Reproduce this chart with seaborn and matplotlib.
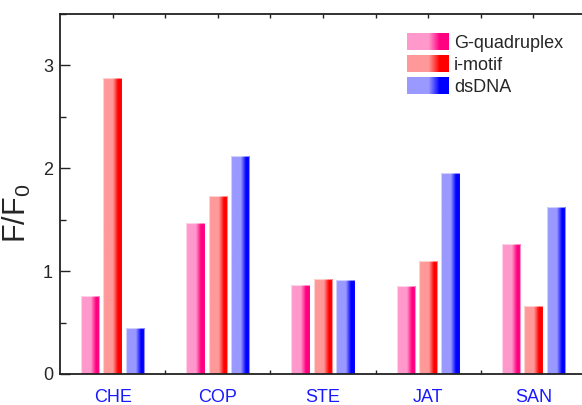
import numpy as np
import pandas as pd
import matplotlib
matplotlib.use("Agg")
import matplotlib.pyplot as plt
from matplotlib.colors import to_rgb
from matplotlib.patches import Rectangle
from matplotlib.legend_handler import HandlerBase
from matplotlib.ticker import MultipleLocator, FixedLocator
import seaborn as sns

# Fluorescence enhancement F/F0 for each probe against three DNA structures
categories = ["CHE", "COP", "STE", "JAT", "SAN"]
series = ["G-quadruplex", "i-motif", "dsDNA"]
g_quadruplex = [0.76, 1.47, 0.87, 0.86, 1.26]
i_motif = [2.88, 1.73, 0.92, 1.10, 0.66]
dsdna = [0.45, 2.12, 0.91, 1.95, 1.62]

light = {"G-quadruplex": "#FF99CC", "i-motif": "#FF9999", "dsDNA": "#9999FF"}
deep = {"G-quadruplex": "#FF0080", "i-motif": "#FF0000", "dsDNA": "#0000FF"}

df = pd.DataFrame({
    "probe": categories * 3,
    "structure": sum([[s] * len(categories) for s in series], []),
    "ratio": g_quadruplex + i_motif + dsdna,
})

sns.set_style("ticks")
plt.rcParams["font.family"] = ["Liberation Sans", "DejaVu Sans"]

fig = plt.figure(figsize=(5.82, 4.05), dpi=100)
ax = fig.add_axes([60 / 582, 31 / 405, 526 / 582, 360 / 405])

sns.barplot(data=df, x="probe", y="ratio", hue="structure",
            hue_order=series, order=categories,
            palette=[light[s] for s in series],
            width=0.64, gap=0.18, legend=False, ax=ax,
            edgecolor="none", linewidth=0)


def ramp(c1, c2, n=64):
    """Horizontal shade: flat light part, a blend, then the deep colour."""
    a, b = np.array(to_rgb(c1)), np.array(to_rgb(c2))
    t = np.linspace(0, 1, n)
    w = np.clip((t - 0.52) / 0.28, 0, 1)
    return (a[None, :] * (1 - w[:, None]) + b[None, :] * w[:, None])


# Replace the flat fills with the left-to-right shading
bars = list(ax.patches)
for i, bar in enumerate(bars):
    s = series[i // len(categories)]
    x0, y0 = bar.get_x(), bar.get_y()
    w, h = bar.get_width(), bar.get_height()
    img = ramp(light[s], deep[s])[None, :, :]
    im = ax.imshow(img, extent=[x0, x0 + w, y0, y0 + h], aspect="auto",
                   interpolation="bilinear", zorder=bar.get_zorder() + 0.1)
    im.set_clip_path(bar)
    ax.add_patch(Rectangle((x0, y0), w, h, fill=False,
                           edgecolor=(1, 1, 1, 0.55), linewidth=0.8,
                           zorder=bar.get_zorder() + 0.2))

ax.set_xlim(-0.5, 4.5)
ax.set_ylim(0, 3.5)
ax.set_xlabel("")
ax.set_ylabel(r"$\mathregular{F/F_0}$", fontsize=22)
ax.yaxis.set_label_coords(-0.051, 0.447)

ax.yaxis.set_major_locator(FixedLocator([0, 1, 2, 3]))
ax.yaxis.set_minor_locator(MultipleLocator(0.5))
ax.xaxis.set_minor_locator(FixedLocator([0.5, 1.5, 2.5, 3.5]))

ax.tick_params(axis="both", which="both", direction="in", top=True,
               right=False, width=1.0, color="#222222")
ax.tick_params(axis="y", which="major", length=7, labelsize=13, pad=5)
ax.tick_params(axis="y", which="minor", length=4)
ax.tick_params(axis="x", which="major", length=3, labelsize=13, pad=11,
               labelcolor="#1a1aff")
ax.tick_params(axis="x", which="minor", length=3)

for side in ["left", "bottom", "top"]:
    ax.spines[side].set_linewidth(1.3)
    ax.spines[side].set_color("#222222")
ax.spines["right"].set_visible(False)


class GradientHandler(HandlerBase):
    def __init__(self, c1, c2, **kw):
        super().__init__(**kw)
        self.c1, self.c2 = c1, c2

    def create_artists(self, legend, orig_handle, xdescent, ydescent,
                       width, height, fontsize, trans):
        cols = ramp(self.c1, self.c2, 40)
        n = len(cols)
        arts = []
        for k, c in enumerate(cols):
            r = Rectangle((-xdescent + width * k / n, -ydescent),
                          width / n * 1.05, height, facecolor=c,
                          edgecolor="none", transform=trans)
            arts.append(r)
        return arts


handles = [Rectangle((0, 0), 1, 1) for _ in series]
handler_map = {h: GradientHandler(light[s], deep[s])
               for h, s in zip(handles, series)}
fig.legend(handles, series, handler_map=handler_map,
           loc="upper left", bbox_to_anchor=(407 / 582, 1 - 33 / 405),
           frameon=False, fontsize=13, handlelength=2.3, handleheight=1.05,
           labelspacing=0.2, handletextpad=0.3, borderpad=0,
           borderaxespad=0)

fig.savefig("out.png", dpi=100)
